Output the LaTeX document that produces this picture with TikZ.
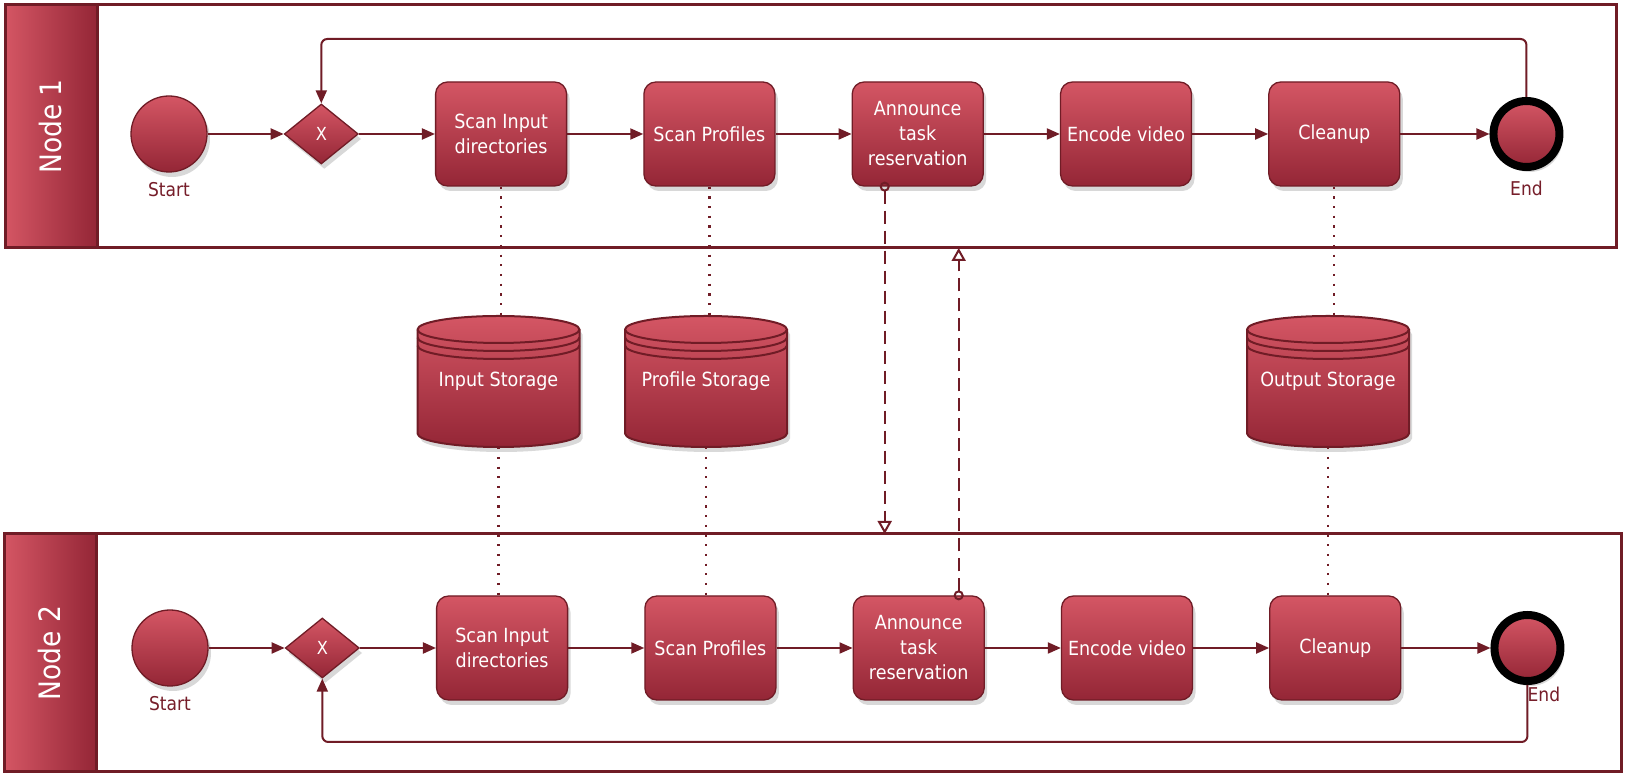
\documentclass[tikz,border=0pt]{standalone}
\usepackage{fontspec}
\setmainfont{DejaVu Sans Condensed}
\usetikzlibrary{arrows.meta, positioning, shapes.geometric, shadows}

\definecolor{bpmnlight}{RGB}{212,86,100}
\definecolor{bpmndark}{RGB}{148,38,54}
\definecolor{bpmnline}{RGB}{112,28,38}
\definecolor{bpmnlabel}{RGB}{118,30,42}

\tikzset{
    soft shadow/.style={drop shadow={shadow xshift=3pt, shadow yshift=-5pt, opacity=0.3}},
    shade red/.style={top color=bpmnlight, bottom color=bpmndark},
    task/.style={draw=bpmnline, line width=1.3pt, rounded corners=12pt, shade red, soft shadow,
        minimum width=131pt, minimum height=104pt, align=center, text=white,
        font=\fontsize{19.5}{25}\selectfont},
    startev/.style={circle, draw=bpmnline, line width=1.3pt, shade red, soft shadow,
        minimum size=76pt, inner sep=0pt},
    endev/.style={circle, draw=black, line width=8pt, shade red, soft shadow,
        minimum size=66pt, inner sep=0pt},
    gateway/.style={diamond, draw=bpmnline, line width=1.3pt, shade red, soft shadow,
        minimum width=74pt, minimum height=60pt, inner sep=0pt, text=white,
        font=\fontsize{18}{20}\selectfont},
    evlabel/.style={text=bpmnlabel, font=\fontsize{19}{22}\selectfont, inner sep=1pt, label distance=9pt},
    lane/.style={draw=bpmnline, line width=3pt, fill=white, outer sep=0pt},
    lanehead/.style={draw=bpmnline, line width=3pt, left color=bpmnlight, right color=bpmndark,
        minimum width=92pt, outer sep=0pt},
    lanetitle/.style={rotate=90, text=white, font=\fontsize{29.5}{32}\selectfont},
    storebody/.style={draw=bpmnline, line width=2pt, shade red, soft shadow},
    storering/.style={draw=bpmnline, line width=2pt},
    storebox/.style={minimum width=162pt, minimum height=131pt, text=white,
        font=\fontsize{19.5}{25}\selectfont},
    flow/.style={draw=bpmnline, line width=2pt, -{Triangle[length=13pt, width=11pt]}},
    loopflow/.style={flow, rounded corners=6pt},
    assoc/.style={draw=bpmnline, line width=2.2pt, dash pattern=on 2.2pt off 7.5pt},
    msg/.style={draw=bpmnline, line width=2pt, dash pattern=on 13pt off 7pt,
        {Circle[open, length=10pt, width=10pt]}-{Triangle[open, length=13pt, width=14pt]}}
}

\begin{document}
\begin{tikzpicture}[x=1pt, y=1pt, node distance=76pt]

\useasboundingbox (0,0) rectangle (1625,778);

% Lanes
\node (lane1) [lane, minimum width=1611pt, minimum height=243pt] at (810.5,651.5) {};
\node (head1) [lanehead, minimum height=243pt, anchor=west] at (lane1.west) {};
\node (title1) [lanetitle] at (head1) {Node 1};

\node (lane2) [lane, minimum width=1617pt, minimum height=238pt] at (812.5,125) {};
\node (head2) [lanehead, minimum height=238pt, anchor=west] at (lane2.west) {};
\node (title2) [lanetitle] at (head2) {Node 2};

% Node 1 process
\node (start1) [startev, label={[evlabel]below:Start}] at (169,644) {};
\node (gw1) [gateway, right=of start1] {X};
\node (scan1) [task, right=of gw1] {Scan Input\\directories};
\node (prof1) [task, right=of scan1] {Scan Profiles};
\node (ann1) [task, right=of prof1] {Announce\\task\\reservation};
\node (enc1) [task, right=of ann1] {Encode video};
\node (clean1) [task, right=of enc1] {Cleanup};
\node (end1) [endev, right=89pt of clean1, label={[evlabel]below:End}] {};

% Node 2 process
\node (start2) [startev, label={[evlabel]below:Start}] at (170,130) {};
\node (gw2) [gateway, right=of start2] {X};
\node (scan2) [task, right=of gw2] {Scan Input\\directories};
\node (prof2) [task, right=of scan2] {Scan Profiles};
\node (ann2) [task, right=of prof2] {Announce\\task\\reservation};
\node (enc2) [task, right=of ann2] {Encode video};
\node (clean2) [task, right=of enc2] {Cleanup};
\node (end2) [endev, right=89pt of clean2, label={[evlabel, anchor=north west, inner sep=0pt, label distance=2pt]south:End}] {};

% Storages
\foreach \sx/\sn/\st in {498.5/inst/Input Storage, 706/prst/Profile Storage, 1328/outst/Output Storage} {
    \path[storebody] (\sx-81,448.5) -- (\sx-81,344.5)
        arc[start angle=180, end angle=360, x radius=81pt, y radius=13.5pt]
        -- (\sx+81,448.5)
        arc[start angle=0, end angle=180, x radius=81pt, y radius=13.5pt] -- cycle;
    \foreach \ry in {448.5,440.5,432.5}
        \draw[storering] (\sx-81,\ry) arc[start angle=180, end angle=360, x radius=81pt, y radius=13.5pt];
    \node (\sn) [storebox] at (\sx,396.5) {\st};
}

% Data associations
\foreach \a/\s/\b in {scan1/inst/scan2, prof1/prst/prof2, clean1/outst/clean2} {
    \draw[assoc] (\a.south) -- (\a.south |- \s.north);
    \draw[assoc] (\s.south) -- (\s.south |- \b.north);
}

% Sequence flows
\foreach \a/\b in {start1/gw1, gw1/scan1, scan1/prof1, prof1/ann1, ann1/enc1, enc1/clean1, clean1/end1,
                   start2/gw2, gw2/scan2, scan2/prof2, prof2/ann2, ann2/enc2, enc2/clean2, clean2/end2}
    \draw[flow] (\a) -- (\b);

% Loops back to the gateways
\coordinate (top1) at (0,739);
\coordinate (bot2) at (0,36);
\draw[loopflow] (end1.north) |- (gw1.north |- top1) -- (gw1.north);
\draw[loopflow] (end2.south) |- (gw2.south |- bot2) -- (gw2.south);

% Message flows between the nodes
\draw[msg] ([xshift=-33pt, yshift=5pt]ann1.south) -- ([xshift=-33pt]ann1.south |- lane2.north);
\draw[msg] ([xshift=40pt, yshift=-5pt]ann2.north) -- ([xshift=40pt]ann2.north |- lane1.south);

\end{tikzpicture}
\end{document}
